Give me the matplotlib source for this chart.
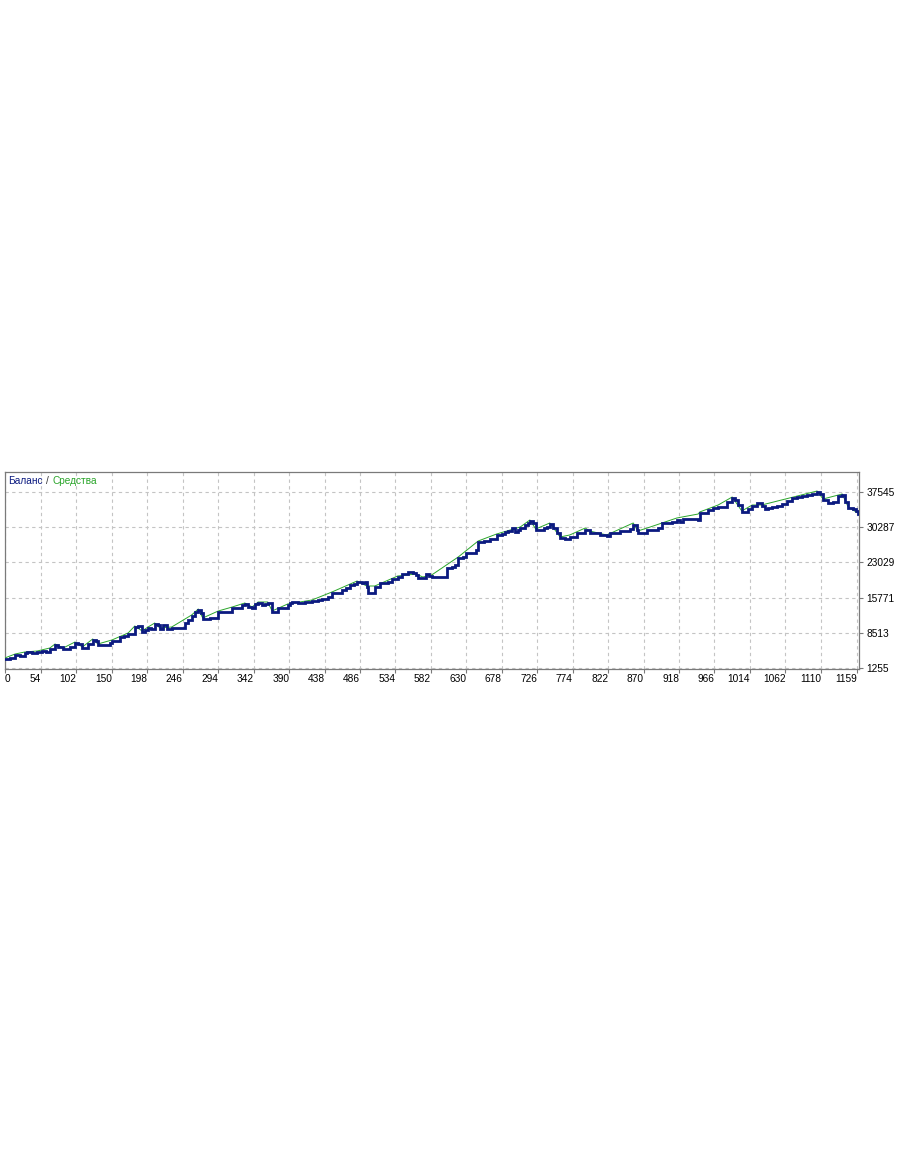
import matplotlib
matplotlib.use("Agg")
import matplotlib.pyplot as plt
from matplotlib.transforms import ScaledTranslation

# ---------------- data ----------------
x_tick_labels = ["0", "54", "102", "150", "198", "246", "294", "342", "390", "438",
                 "486", "534", "582", "630", "678", "726", "774", "822", "870", "918",
                 "966", "1014", "1062", "1110", "1159"]
y_ticks = [1255, 8513, 15771, 23029, 30287, 37545]

balance_x = [5, 12, 19, 26, 32, 35, 42, 49, 55, 61, 66, 73, 77, 84, 93, 100, 104, 110, 118,
             124, 128, 131, 141, 147, 150, 156, 161, 166, 172, 177, 181, 185, 191, 195, 199,
             203, 208, 212, 215, 219, 225, 231, 245, 249, 253, 258, 263, 267, 271, 273, 283,
             292, 294, 299, 306, 313, 319, 326, 330, 334, 340, 344, 348, 353, 357, 361, 367,
             372, 375, 382, 388,
             391, 394, 402, 411, 421, 429, 434, 443, 448, 456, 462, 467, 472, 478, 482, 489,
             493, 495, 497, 504, 506, 513, 520, 524, 529, 537, 543, 551, 558, 562, 564, 571,
             575, 579, 583, 604,
             604, 611, 615, 619, 619, 625, 629, 638, 643, 646, 646, 654, 662, 667, 671, 678,
             682, 686, 692, 696, 700, 703, 709, 713, 716, 720, 724, 732, 735, 739, 743, 747,
             753, 757, 763, 770,
             780, 791, 797, 811, 820, 824, 838, 852, 856, 861, 862, 872, 875, 889, 895, 908,
             915, 919, 923, 944, 946, 957, 964, 971, 978, 983, 990, 994, 998, 1003, 1007,
             1011, 1017, 1024, 1030, 1034, 1038, 1044, 1051, 1057, 1064, 1071, 1078, 1084,
             1091, 1098, 1105, 1109, 1113, 1120, 1126, 1133, 1139, 1143, 1147, 1154, 1158,
             1160]
balance_y = [3111, 3317, 3936, 3729, 4348, 4554, 4348, 4554, 4760, 4554, 5173, 5998, 5585,
             5173, 5585, 6410, 6204, 5379, 6204, 7029, 6822, 5998, 5998, 6410, 6822, 6822,
             7647, 7853, 8266, 8266, 9709, 9915, 8678, 9091, 9503,
             9297, 10328, 10122, 9297, 10122, 9297, 9503, 9503, 10534, 11153, 11977, 12802,
             13215, 12596, 11359, 11565, 11565, 12802, 12802, 12802, 13627, 13627, 14246,
             14452, 13833, 13627, 14452, 14658, 14246, 14452, 14658, 12802, 12802, 13627,
             13627, 14246,
             14658, 14864, 14658, 14864, 15070, 15277, 15483, 15895, 16720, 16720, 17339,
             17751, 18370, 18576, 18988, 18782, 18988, 17957, 16720, 16720, 17957, 18782,
             18782, 18988, 19607, 20019, 20638, 21050, 20844, 20432, 19813, 19813, 20638,
             20225, 20019, 20019,
             21875, 22081, 22494, 22494, 23937, 24143, 24968, 24968, 25587, 25587, 27236,
             27442, 27855, 27855, 28680, 28886, 29298, 29504, 30123, 29298, 29711, 30123,
             30742, 31154, 31566, 31154, 29711, 29711, 30123, 30329, 30948, 30123, 29092,
             28061, 27855, 28267,
             29092, 29711, 29092, 28680, 28473, 29092, 29504, 29917, 30742, 29711, 29092,
             29092, 29711, 30123, 31154, 31360, 31773, 31360, 31979, 31773, 33216, 33835,
             34247, 34453, 34453, 35484, 36309, 35897, 34866, 33422, 33422, 34040, 34659,
             35277, 34659, 34040, 34247, 34453, 34659, 35071, 35690, 36309, 36515, 36721,
             36927, 37134, 37546, 37134, 35897, 35277, 35484, 36721, 36927, 35484, 34247,
             34040, 33628, 33010]

equity_x = [5, 19, 32, 49, 66, 73, 84, 100, 110, 124, 131, 150, 172, 181, 191, 199, 208, 215,
            231, 258, 267, 273, 294, 313, 330, 340, 348, 361, 367, 388, 421, 448, 482, 495,
            506, 537, 562, 571, 583, 619, 646, 671, 703, 716, 724, 743, 757, 770, 791, 797,
            820, 856, 862, 875, 915, 944, 946, 971, 990, 1003, 1017, 1030, 1105, 1113, 1139,
            1147, 1160]
equity_y = [3317, 4142, 4554, 4760, 5379, 6204, 5379, 6616, 5585, 7235, 6204, 7029, 8472,
            9915, 8884, 9709, 10534, 9503, 9709, 12183, 13421, 11565, 13008, 13833, 14658,
            13833, 14864, 14864, 13008, 14452, 15277, 16926, 19194, 18163, 18163, 20225,
            20638, 20019, 20432, 24143, 27442, 28886, 30329, 31772, 29917, 31154, 28267,
            28680, 30123, 29504, 28680, 31154, 29504, 30123, 32185, 33010, 33422, 34866,
            36515, 33628, 34866, 34866, 37752, 36103, 37134, 34453, 33216]

legend_labels = ["Баланс", "/", "Средства"]

# ---------------- style ----------------
BAL_COLOR = "#0b1a80"
EQ_COLOR = "#2aa52a"
FRAME = "#7a7a7a"
GRID = "#c4c4c4"
FONT = "Liberation Sans"
FS = 7.3

fig = plt.figure(figsize=(9.10, 11.55), dpi=100)
W, H = 910, 1155
left_px, right_px, top_px, bot_px = 5, 859, 472, 669
ax = fig.add_axes([left_px / W, 1 - bot_px / H, (right_px - left_px) / W, (bot_px - top_px) / H])

xmin, xmax = 5.25, 1161.7
ymin, ymax = 1049, 41670
ax.set_xlim(xmin, xmax)
ax.set_ylim(ymin, ymax)

ax.plot(equity_x, equity_y, color=EQ_COLOR, lw=0.7, zorder=3)
ax.plot(balance_x, balance_y, color=BAL_COLOR, lw=2.0, zorder=4,
        drawstyle="steps-post", solid_joinstyle="miter")

xpos = [max(float(v), xmin) for v in x_tick_labels]
ax.set_xticks(xpos)
ax.set_xticklabels(x_tick_labels, fontsize=FS, family=FONT, color="black")
for i, lab in enumerate(ax.get_xticklabels()):
    lab.set_horizontalalignment("left" if i == 0 else "right")

ax.yaxis.tick_right()
ax.set_yticks(y_ticks)
ax.set_yticklabels([str(v) for v in y_ticks], fontsize=FS, family=FONT, color="black")
up = ScaledTranslation(0, 2 / 100, fig.dpi_scale_trans)
for tk in ax.yaxis.get_major_ticks():
    tk.label2.set_transform(tk.label2.get_transform() + up)

ax.tick_params(axis="x", direction="out", length=3, width=0.8, color=FRAME, pad=0.8)
ax.tick_params(axis="y", direction="out", length=3, width=0.8, color=FRAME, pad=2.5)

ax.grid(True, color=GRID, linestyle=(0, (3, 3)), linewidth=0.8)
ax.set_axisbelow(True)
for s in ax.spines.values():
    s.set_color(FRAME)
    s.set_linewidth(0.9)

t1 = ax.text(3 / (right_px - left_px), 1 - 9 / (bot_px - top_px), legend_labels[0],
             transform=ax.transAxes, fontsize=FS, family=FONT, color=BAL_COLOR,
             va="center", ha="left")
t2 = ax.annotate(legend_labels[1], xy=(1, 0), xycoords=t1, xytext=(2.5, 0),
                 textcoords="offset points", va="bottom", ha="left",
                 fontsize=FS, family=FONT, color="#333333")
t3 = ax.annotate(legend_labels[2], xy=(1, 0), xycoords=t2, xytext=(2.5, 0),
                 textcoords="offset points", va="bottom", ha="left",
                 fontsize=FS, family=FONT, color=EQ_COLOR)

fig.savefig("out.png", dpi=100, facecolor="white")
